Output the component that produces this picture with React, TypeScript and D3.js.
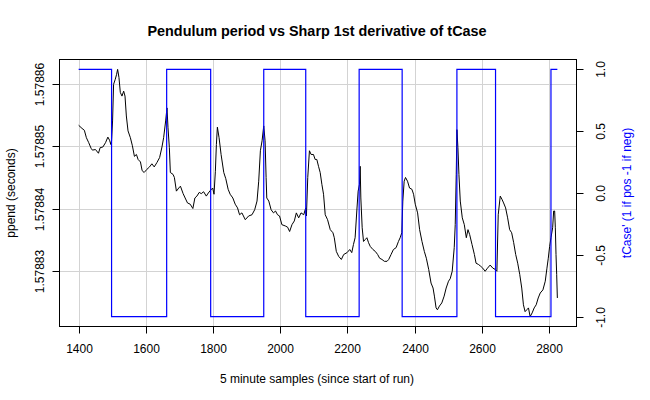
import React from "react";
import * as d3 from "d3";

// 5 minute sample index and pendulum period (seconds)
const samples = [
  1400, 1410, 1417, 1423, 1430, 1437, 1441, 1450, 1459, 1464, 1472, 1480, 1487, 1492, 1496, 1498,
  1501, 1504, 1509, 1513, 1516, 1520, 1524, 1529, 1534, 1538, 1542, 1547, 1554, 1560, 1566, 1572,
  1577, 1584, 1589, 1595, 1603, 1611, 1618, 1625, 1633, 1641, 1648, 1653, 1659, 1663, 1666, 1670,
  1673, 1681, 1685, 1691, 1698, 1703, 1711, 1717, 1724, 1732, 1740, 1746, 1752, 1759, 1765, 1772,
  1780, 1786, 1792, 1799, 1803, 1807, 1810, 1813, 1818, 1824, 1832, 1838, 1845, 1851, 1859, 1866,
  1873, 1879, 1886, 1896, 1906, 1916, 1924, 1931, 1936, 1941, 1946, 1951, 1955, 1958, 1960, 1966,
  1973, 1980, 1986, 1992, 1998, 2005, 2015, 2022, 2028, 2035, 2042, 2048, 2055, 2062, 2070, 2076,
  2078, 2082, 2087, 2092, 2099, 2104, 2109, 2114, 2119, 2124, 2129, 2134, 2141, 2149, 2157, 2161,
  2167, 2174, 2182, 2189, 2199, 2207, 2213, 2218, 2223, 2228, 2232, 2236, 2238, 2240, 2244, 2248,
  2253, 2258, 2263, 2268, 2276, 2283, 2290, 2296, 2303, 2310, 2318, 2323, 2330, 2337, 2345, 2352,
  2357, 2362, 2365, 2369, 2373, 2379, 2385, 2392, 2397, 2402, 2409, 2415, 2422, 2429, 2435, 2442,
  2449, 2455, 2459, 2464, 2468, 2474, 2481, 2488, 2494, 2501, 2506, 2512, 2518, 2521, 2524, 2526,
  2529, 2532, 2536, 2542, 2548, 2554, 2559, 2564, 2571, 2578, 2583, 2590, 2597, 2603, 2610, 2617,
  2625, 2633, 2640, 2645, 2649, 2655, 2660, 2665, 2671, 2677, 2683, 2689, 2695, 2701, 2707, 2713,
  2719, 2724, 2729, 2734, 2739, 2744, 2750, 2756, 2762, 2768, 2774, 2782, 2789, 2794, 2798, 2802,
  2806, 2811, 2814, 2817, 2819, 2821, 2823, 2825,
];

const ppend = [
  1.5788534, 1.5788529, 1.5788526, 1.5788514, 1.5788506, 1.5788497, 1.5788494, 1.5788495, 1.5788489, 1.5788498, 1.5788499, 1.5788506, 1.5788515, 1.578851, 1.5788503, 1.5788509,
  1.5788541, 1.57886, 1.5788608, 1.5788616, 1.5788624, 1.5788611, 1.5788587, 1.5788581, 1.5788589, 1.5788581, 1.5788549, 1.5788525, 1.5788514, 1.5788501, 1.5788484, 1.5788487,
  1.5788479, 1.5788475, 1.5788461, 1.5788458, 1.5788463, 1.5788467, 1.5788472, 1.5788467, 1.5788474, 1.5788482, 1.5788499, 1.5788514, 1.5788541, 1.5788562, 1.578853, 1.5788498,
  1.5788458, 1.5788455, 1.578845, 1.5788428, 1.5788433, 1.5788436, 1.5788424, 1.5788417, 1.5788409, 1.5788407, 1.57884, 1.5788417, 1.578842, 1.5788426, 1.5788424, 1.5788427,
  1.578842, 1.5788425, 1.5788429, 1.5788433, 1.5788423, 1.578846, 1.5788503, 1.5788531, 1.5788514, 1.5788487, 1.5788458, 1.5788448, 1.5788431, 1.5788423, 1.5788417, 1.5788407,
  1.5788401, 1.578839, 1.5788393, 1.5788382, 1.5788388, 1.578839, 1.5788398, 1.5788412, 1.5788444, 1.5788493, 1.5788509, 1.5788533, 1.5788509, 1.578845, 1.5788417, 1.5788412,
  1.5788398, 1.5788393, 1.5788396, 1.578839, 1.5788388, 1.5788374, 1.5788372, 1.578837, 1.5788363, 1.5788374, 1.578838, 1.5788393, 1.5788385, 1.5788393, 1.578839, 1.5788401,
  1.5788388, 1.578845, 1.5788493, 1.5788487, 1.5788487, 1.5788479, 1.5788479, 1.5788468, 1.5788458, 1.5788439, 1.5788423, 1.578839, 1.5788382, 1.5788366, 1.5788361, 1.5788353,
  1.5788331, 1.5788323, 1.5788318, 1.5788326, 1.5788329, 1.5788334, 1.5788329, 1.5788342, 1.5788353, 1.5788396, 1.5788428, 1.5788439, 1.5788468, 1.5788417, 1.5788369, 1.5788347,
  1.578835, 1.5788353, 1.5788345, 1.5788339, 1.5788334, 1.5788331, 1.5788326, 1.578832, 1.5788318, 1.5788315, 1.5788315, 1.5788318, 1.5788326, 1.5788334, 1.5788337, 1.5788347,
  1.5788353, 1.5788361, 1.5788412, 1.5788444, 1.578845, 1.5788444, 1.5788433, 1.5788431, 1.5788423, 1.5788407, 1.5788393, 1.5788366, 1.5788347, 1.5788331, 1.578832, 1.5788302,
  1.578828, 1.5788272, 1.5788259, 1.578824, 1.5788237, 1.5788243, 1.5788248, 1.5788259, 1.5788272, 1.5788283, 1.5788287, 1.5788299, 1.5788337, 1.5788374, 1.5788455, 1.5788527,
  1.5788498, 1.5788455, 1.5788412, 1.5788385, 1.5788374, 1.5788353, 1.5788366, 1.5788358, 1.5788342, 1.5788326, 1.5788312, 1.578831, 1.5788307, 1.5788304, 1.5788299, 1.5788304,
  1.5788309, 1.5788304, 1.5788302, 1.5788299, 1.578839, 1.578842, 1.5788415, 1.5788409, 1.5788401, 1.5788385, 1.5788366, 1.5788361, 1.5788345, 1.5788326, 1.5788312, 1.5788294,
  1.5788272, 1.5788245, 1.5788234, 1.5788237, 1.578824, 1.5788226, 1.5788232, 1.578824, 1.5788245, 1.5788256, 1.5788264, 1.5788269, 1.5788283, 1.5788304, 1.578832, 1.5788339,
  1.5788353, 1.5788369, 1.5788396, 1.5788396, 1.5788369, 1.5788326, 1.5788294, 1.5788256,
];

// sign of tCase derivative: each value holds from its switch sample to the next one
const tCaseSwitch = [1400, 1498, 1662, 1793, 1951, 2076, 2235, 2363, 2526, 2641, 2806, 2825];
const tCaseSign = [1, -1, 1, -1, 1, -1, 1, -1, 1, -1, 1, 1];

const xTicks = [1400, 1600, 1800, 2000, 2200, 2400, 2600, 2800];
const yTicks = [1.57883, 1.57884, 1.57885, 1.57886];
const y2Ticks = [-1, -0.5, 0, 0.5, 1];

const W = 650;
const H = 400;
const box = { left: 59.5, right: 576.5, top: 59.5, bottom: 326.5 };
const font = "'Liberation Sans', Arial, sans-serif";

// R style axis range: data extent padded 4% on each side
function pad([lo, hi]: [number, number]): [number, number] {
  const d = (hi - lo) * 0.04;
  return [lo - d, hi + d];
}

export default function App() {
  const x = d3
    .scaleLinear()
    .domain(pad(d3.extent(samples) as [number, number]))
    .range([box.left, box.right]);
  const y = d3
    .scaleLinear()
    .domain(pad(d3.extent(ppend) as [number, number]))
    .range([box.bottom, box.top]);
  const y2 = d3.scaleLinear().domain(pad([-1, 1])).range([box.bottom, box.top]);

  const periodLine = d3
    .line<number>()
    .x((d, i) => x(samples[i]))
    .y((d) => y(d))(ppend);

  const signLine = d3
    .line<number>()
    .x((d) => x(d))
    .y((d, i) => y2(tCaseSign[i]))
    .curve(d3.curveStepAfter)(tCaseSwitch);

  const midY = (box.top + box.bottom) / 2;

  return (
    <svg
      width={W}
      height={H}
      style={{ position: "absolute", left: 0, top: 0, background: "#fff" }}
      fontFamily={font}
    >
      <rect width={W} height={H} fill="#fff" />
      {/* grid */}
      <g stroke="#d3d3d3" strokeWidth={1}>
        {xTicks.map((t) => (
          <line key={t} x1={Math.round(x(t)) + 0.5} x2={Math.round(x(t)) + 0.5} y1={box.top} y2={box.bottom} />
        ))}
        {yTicks.map((t) => (
          <line key={t} x1={box.left} x2={box.right} y1={Math.round(y(t)) + 0.5} y2={Math.round(y(t)) + 0.5} />
        ))}
      </g>

      <path d={periodLine ?? ""} fill="none" stroke="#000" strokeWidth={1} />
      <path d={signLine ?? ""} fill="none" stroke="#0000ff" strokeWidth={1.2} />

      <rect
        x={box.left}
        y={box.top}
        width={box.right - box.left}
        height={box.bottom - box.top}
        fill="none"
        stroke="#000"
      />

      {/* bottom axis */}
      <g fontSize={12} textAnchor="middle">
        {xTicks.map((t) => {
          const px = Math.round(x(t)) + 0.5;
          return (
            <g key={t}>
              <line x1={px} x2={px} y1={box.bottom} y2={box.bottom + 7} stroke="#000" />
              <text x={px} y={353}>{t}</text>
            </g>
          );
        })}
      </g>

      {/* left axis */}
      <g fontSize={12} textAnchor="middle">
        {yTicks.map((t) => {
          const py = Math.round(y(t)) + 0.5;
          return (
            <g key={t}>
              <line x1={box.left} x2={box.left - 7} y1={py} y2={py} stroke="#000" />
              <text transform={`translate(43.5,${py}) rotate(-90)`}>{t.toFixed(5)}</text>
            </g>
          );
        })}
      </g>

      {/* right axis */}
      <g fontSize={12} textAnchor="middle">
        {y2Ticks.map((t) => {
          const py = Math.round(y2(t)) + 0.5;
          return (
            <g key={t}>
              <line x1={box.right} x2={box.right + 7} y1={py} y2={py} stroke="#000" />
              <text transform={`translate(604.5,${py}) rotate(-90)`}>{t.toFixed(1)}</text>
            </g>
          );
        })}
      </g>

      <text x={317} y={36} textAnchor="middle" fontSize={14.4} fontWeight="bold">
        Pendulum period vs Sharp 1st derivative of tCase
      </text>
      <text x={317} y={382.5} textAnchor="middle" fontSize={12}>
        5 minute samples (since start of run)
      </text>
      <text transform={`translate(15,${midY}) rotate(-90)`} textAnchor="middle" fontSize={12}>
        ppend (seconds)
      </text>
      <text
        transform={`translate(631,${midY}) rotate(-90)`}
        textAnchor="middle"
        fontSize={12}
        fill="#0000ff"
      >
        tCase' (1 if pos -1 if neg)
      </text>
    </svg>
  );
}
